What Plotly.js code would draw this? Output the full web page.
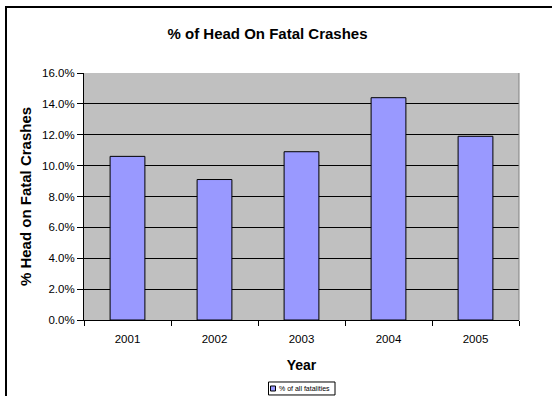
<!DOCTYPE html>
<html><head><meta charset="utf-8">
<script src="https://cdn.plot.ly/plotly-3.0.1.min.js"></script>
<style>html,body{margin:0;padding:0;background:#fff;}#chart{width:552px;height:396px;}</style>
</head><body><div id="chart"></div>
<script>
const years = ['2001', '2002', '2003', '2004', '2005'];
const pctHeadOn = [10.6, 9.1, 10.9, 14.4, 11.9];
const seriesName = '% of all fatalities';
const yTicks = [0, 2, 4, 6, 8, 10, 12, 14, 16];

const F = 'Arial, "Liberation Sans", sans-serif';
const L = 84, T = 73, W = 435, H = 247.4, B = T + H;
const px = x => (x - L) / W;
const py = y => (B - y) / H;

const trace = {
  type: 'bar', x: years, y: pctHeadOn, name: seriesName,
  marker: {color: '#9999FF', line: {color: '#000000', width: 1}},
  width: 0.4, showlegend: false, hoverinfo: 'none'
};
const layout = {
  width: 552, height: 396,
  margin: {l: L, r: 552 - L - W, t: T, b: 396 - B, pad: 0},
  paper_bgcolor: '#ffffff', plot_bgcolor: '#C0C0C0',
  font: {family: F, color: '#000', size: 11},
  title: {text: '<b>% of Head On Fatal Crashes</b>', font: {family: F, size: 15, color: '#000'},
    x: 267.5/552, xref: 'container', xanchor: 'center', y: 1 - 34/396, yref: 'container', yanchor: 'middle'},
  xaxis: {type: 'category', tickson: 'boundaries', ticks: 'outside', ticklen: 5, tickcolor: '#000',
    showline: true, linecolor: '#000', linewidth: 1, showgrid: false, mirror: false,
    ticklabelstandoff: 8,
    tickfont: {family: F, size: 11.5, color: '#000'},
    title: {text: '<b>Year</b>', font: {family: F, size: 14, color: '#000'}, standoff: 16}},
  yaxis: {range: [0, 16], tickvals: yTicks, ticktext: yTicks.map(v => v.toFixed(1) + '%'),
    ticks: 'outside', ticklen: 6, tickcolor: '#000', showline: true, linecolor: '#000', linewidth: 1,
    showgrid: true, gridcolor: '#000', gridwidth: 1, zeroline: false,
    tickfont: {family: F, size: 11.5, color: '#000'},
    title: {text: '<b>% Head on Fatal Crashes</b>', font: {family: F, size: 15, color: '#000'}, standoff: 6}},
  showlegend: false,
  annotations: [
    {text: seriesName, xref: 'paper', yref: 'paper', x: px(276.5), y: py(389), xanchor: 'left', yanchor: 'middle',
     showarrow: false, font: {family: F, size: 7, color: '#000'}}
  ],
  shapes: [
    {type: 'rect', xref: 'paper', yref: 'paper', x0: px(6), x1: 1.3, y0: -0.5, y1: py(7),
     line: {color: '#000', width: 2}, fillcolor: 'rgba(0,0,0,0)', layer: 'above'},
    {type: 'line', xref: 'paper', yref: 'paper', x0: 1, x1: 1, y0: 0, y1: 1, line: {color: '#808080', width: 1}},
    {type: 'rect', xref: 'paper', yref: 'paper', x0: px(268.5), x1: px(335), y0: py(395.5), y1: py(382.5),
     line: {color: '#000', width: 1}, fillcolor: '#fff', layer: 'above'},
    {type: 'rect', xref: 'paper', yref: 'paper', x0: px(270.5), x1: px(275.5), y0: py(391.5), y1: py(386.5),
     line: {color: '#000', width: 1}, fillcolor: '#9999FF', layer: 'above'}
  ]
};
Plotly.newPlot('chart', [trace], layout, {staticPlot: true, displayModeBar: false});
</script></body></html>
